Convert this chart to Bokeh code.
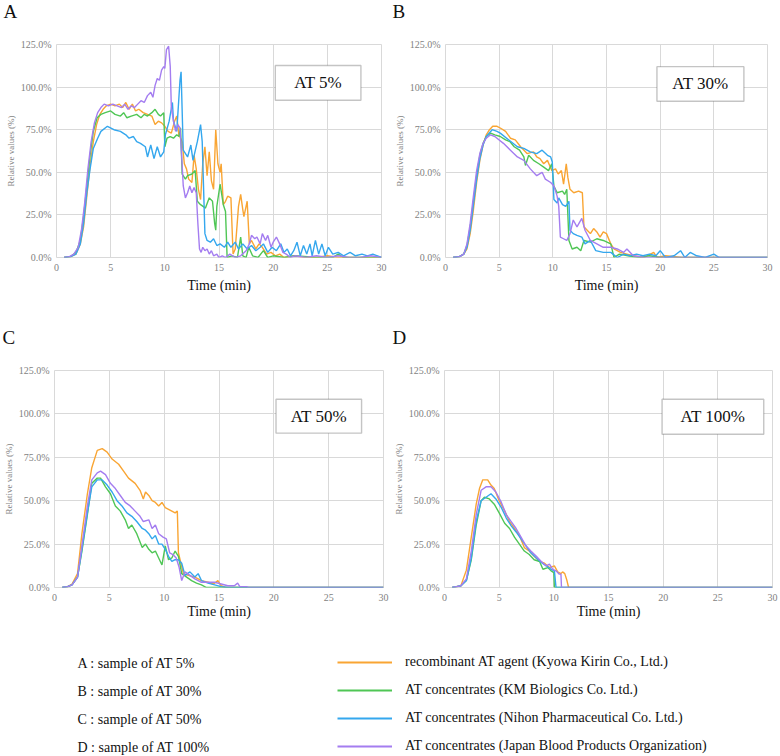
from bokeh.plotting import figure
from bokeh.models import Range1d, FixedTicker, Label, BoxAnnotation, Legend, LegendItem
from bokeh.layouts import column, row
from bokeh.embed import file_html
from bokeh.resources import INLINE

# ---------------- data (time in min, relative value in %) ----------------
A_OR_T = [0.7, 1.3, 1.8, 2.2, 2.5, 2.8, 3.1, 3.4, 3.7, 4.0, 4.3, 4.6, 5.0, 5.4, 5.8, 6.1, 6.4, 6.7, 7.0, 7.3,
          7.6, 8.0, 8.4, 8.8, 9.1, 9.4, 9.7, 10.0, 10.3, 10.6, 10.9, 11.1, 11.3, 11.6, 11.8, 12.0, 12.2, 12.5, 12.7, 12.9,
          13.1, 13.3, 13.5, 13.7, 13.9, 14.1, 14.3, 14.5, 14.7, 14.9, 15.1, 15.2, 15.4, 15.6, 15.8, 16.1, 16.3, 16.5, 16.8, 17.0,
          17.2, 17.3, 17.5, 17.6, 17.8, 18.0, 18.4, 18.7, 19.0, 19.4, 19.8, 20.2, 20.6, 21.0, 22.0, 23.0, 24.0, 25.0, 26.0, 28.0,
          30.0]
A_OR_V = [0, 0.5, 2, 8, 18, 36, 54, 68, 78, 84, 87, 89, 90, 89, 90, 88, 91, 87, 90, 86,
          87, 85, 84, 83, 78, 80, 79, 77, 74, 73, 80, 83, 72, 68, 55, 52, 46, 44, 60, 52,
          40, 34, 55, 65, 48, 62, 45, 40, 75, 55, 50, 55, 31, 33, 36, 35, 2, 5, 30, 37,
          28, 24, 30, 33, 8, 10, 5, 8, 6, 2, 3, 1, 2, 0, 1, 0, 0, 1, 0, 0,
          0]
A_GR_T = [0.7, 1.3, 1.8, 2.2, 2.5, 2.8, 3.1, 3.4, 3.75, 4.1, 4.5, 5.0, 5.4, 5.9, 6.2, 6.5, 6.9, 7.4, 7.8, 8.1,
          8.4, 8.8, 9.1, 9.4, 9.6, 9.9, 10.0, 10.2, 10.5, 10.8, 11.1, 11.3, 11.45, 11.6, 11.9, 12.1, 12.5, 12.8, 13.0, 13.3,
          13.75, 14.1, 14.4, 14.6, 14.7, 14.8, 15.1, 15.4, 15.6, 15.75, 16.2, 16.7, 17.0, 17.2, 17.5, 17.75, 18.1, 18.6, 19.1, 19.5,
          20.0, 21.0, 22.0, 24.0, 25.5, 26.0, 26.5, 28.0, 30.0]
A_GR_V = [0, 0.5, 3, 10, 24, 42, 60, 74, 82, 84, 85, 86, 84, 83, 85, 82, 83, 84, 82, 84,
          83, 85, 87, 84, 83, 85, 65, 70, 71, 70, 72, 71, 76, 49, 46, 48, 49, 51, 33, 31,
          29, 35, 33, 20, 16, 30, 43, 31, 27, 0, 1, 0, 12, 1, 0, 6, 1, 0, 4, 0,
          1, 0, 1, 0, 0, 2, 0, 0, 0]
A_BL_T = [0.7, 1.3, 1.8, 2.2, 2.5, 2.8, 3.1, 3.4, 3.8, 4.1, 4.7, 5.3, 5.9, 6.4, 6.7, 7.1, 7.4, 7.75, 8.2, 8.4,
          8.7, 9.0, 9.3, 9.6, 9.9, 10.05, 10.4, 10.7, 10.8, 11.1, 11.4, 11.5, 11.7, 12.1, 12.4, 12.6, 13.0, 13.3, 13.45, 13.7,
          13.9, 14.2, 14.5, 14.8, 15.1, 15.5, 15.8, 16.1, 16.5, 16.8, 17.2, 17.6, 18.0, 18.4, 18.8, 19.1, 19.5, 19.9, 20.3, 20.7,
          21.0, 21.3, 21.6, 21.9, 22.2, 22.5, 22.8, 23.1, 23.4, 23.6, 23.9, 24.2, 24.5, 24.8, 25.1, 25.5, 26.0, 26.5, 27.1, 27.6,
          28.2, 28.7, 29.2, 30.0]
A_BL_V = [0, 0.5, 2, 8, 20, 38, 52, 64, 70, 74, 77, 75, 74, 72, 70, 71, 68, 67, 65, 59,
          66, 58, 65, 59, 62, 72, 80, 91, 80, 74, 104, 109, 63, 59, 66, 57, 68, 78, 68, 14,
          10, 9, 11, 7, 8, 6, 9, 6, 9, 5, 8, 5, 7, 4, 6, 8, 3, 6, 4, 8,
          3, 5, 1, 4, 9, 1, 7, 2, 8, 1, 10, 2, 8, 1, 6, 2, 3, 1, 3, 1,
          2, 1, 2, 0]
A_PU_T = [0.7, 1.2, 1.6, 2.0, 2.3, 2.6, 2.9, 3.2, 3.5, 3.8, 4.1, 4.4, 4.8, 5.2, 5.6, 6.0, 6.3, 6.6, 6.9, 7.2,
          7.5, 7.8, 8.1, 8.4, 8.7, 8.9, 9.1, 9.3, 9.5, 9.7, 9.9, 10.0, 10.15, 10.35, 10.5, 10.6, 10.8, 11.0, 11.2, 11.4,
          11.55, 11.7, 11.9, 12.1, 12.3, 12.5, 12.7, 12.9, 13.05, 13.2, 13.35, 13.5, 13.7, 13.9, 14.1, 14.3, 14.5, 14.8, 15.0, 15.3,
          15.6, 16.0, 16.5, 17.0, 17.5, 17.8, 18.0, 18.3, 18.5, 18.8, 19.0, 19.3, 19.5, 19.8, 20.0, 20.3, 20.6, 20.9, 21.2, 21.6,
          22.0, 23.0, 24.0, 25.0, 26.0, 27.0, 28.0, 29.0, 30.0]
A_PU_V = [0, 0.5, 2, 6, 16, 32, 52, 68, 79, 85, 88, 90, 89, 90, 89, 88, 90, 87, 89, 88,
          90, 92, 91, 95, 97, 94, 101, 105, 104, 110, 112, 111, 122, 124, 112, 88, 80, 74, 78, 76,
          60, 42, 35, 38, 42, 38, 41, 38, 20, 5, 3, 6, 4, 5, 2, 4, 1, 2, 0, 1,
          0, 2, 0, 1, 4, 8, 13, 11, 12, 8, 14, 10, 13, 6, 9, 12, 8, 3, 2, 0,
          1, 0, 1, 0, 1, 0, 0, 1, 0]

B_OR_T = [0.7, 1.3, 1.7, 2.0, 2.3, 2.6, 2.9, 3.2, 3.5, 3.8, 4.1, 4.4, 4.8, 5.1, 5.6, 6.05, 6.5, 7.0, 7.6, 8.2,
          8.5, 8.8, 9.15, 9.5, 9.9, 10.25, 10.5, 10.8, 11.0, 11.25, 11.4, 11.6, 11.95, 12.4, 12.75, 12.9, 13.2, 13.5, 13.8, 14.1,
          14.4, 14.7, 15.0, 15.4, 15.7, 16.3, 16.9, 17.5, 18.5, 19.4, 19.7, 20.5, 22.0, 25.0, 30.0]
B_OR_V = [0, 0.5, 2, 5, 14, 28, 44, 57, 66, 72, 75, 77, 77, 76, 74, 70, 69, 65, 61, 62,
          59, 58, 55, 57, 51, 52, 49, 51, 43, 55, 47, 40, 38, 39, 38, 18, 16, 14, 17, 15,
          12, 15, 14, 8, 5, 3, 2, 1, 0, 3, 0, 1, 0, 0, 0]
B_GR_T = [0.7, 1.3, 1.7, 2.0, 2.3, 2.6, 2.9, 3.2, 3.5, 3.8, 4.2, 4.6, 5.1, 5.6, 6.0, 6.4, 6.9, 7.3, 7.45, 7.75,
          8.2, 8.7, 9.15, 9.6, 9.9, 10.1, 10.4, 10.9, 11.1, 11.3, 11.5, 11.8, 12.25, 12.6, 12.9, 13.5, 14.1, 14.7, 15.4, 15.7,
          16.2, 17.0, 18.0, 19.0, 20.0, 30.0]
B_GR_V = [0, 0.5, 2, 7, 18, 33, 48, 60, 67, 71, 73, 72, 71, 69, 68, 65, 63, 59, 54, 60,
          57, 55, 53, 51, 55, 42, 38, 39, 37, 40, 10, 5, 6, 4, 10, 9, 11, 10, 8, 0,
          2, 1, 0, 1, 0, 0]
B_BL_T = [0.7, 1.3, 1.7, 2.0, 2.3, 2.6, 2.9, 3.2, 3.5, 3.8, 4.35, 4.8, 5.1, 5.9, 6.7, 7.3, 7.9, 8.5, 9.0, 9.5,
          9.8, 9.95, 10.1, 10.4, 10.55, 10.9, 11.2, 11.5, 11.6, 11.9, 12.25, 12.7, 13.0, 13.5, 14.0, 14.7, 15.4, 16.0, 16.6, 17.2,
          17.8, 18.4, 19.0, 19.6, 20.0, 20.5, 21.3, 21.9, 22.3, 22.8, 23.4, 24.2, 25.0, 25.5, 26.5, 30.0]
B_BL_V = [0, 0.5, 2, 6, 16, 31, 46, 58, 66, 71, 75, 74, 73, 69, 65, 64, 62, 61, 63, 60,
          59, 56, 34, 32, 35, 31, 30, 33, 16, 14, 13, 12, 8, 10, 4, 3, 3, 0, 2, 1,
          2, 1, 2, 1, 4, 0, 1, 4, 0, 3, 1, 0, 2, 0, 0, 0]
B_PU_T = [0.7, 1.3, 1.7, 2.0, 2.3, 2.6, 2.9, 3.2, 3.5, 3.8, 4.2, 4.6, 5.0, 5.4, 6.05, 6.7, 7.3, 7.9, 8.5, 9.0,
          9.3, 9.8, 10.1, 10.4, 10.55, 10.7, 11.0, 11.3, 11.6, 11.9, 12.25, 12.7, 13.0, 13.5, 14.1, 14.7, 15.4, 16.0, 16.6, 16.9,
          17.5, 18.5, 20.0, 30.0]
B_PU_V = [0, 0.5, 2, 8, 20, 36, 51, 61, 67, 70, 72, 71, 69, 67, 63, 59, 57, 52, 48, 50,
          46, 44, 42, 36, 30, 12, 11, 10, 14, 22, 18, 23, 16, 10, 8, 6, 6, 5, 3, 5,
          1, 0, 0, 0]

C_OR_T = [0.7, 1.2, 1.6, 2.1, 2.5, 3.0, 3.4, 3.9, 4.35, 4.8, 5.25, 5.85, 6.3, 6.75, 7.35, 7.8, 8.1, 8.3, 8.6, 8.9,
          9.2, 9.5, 9.8, 10.1, 10.4, 10.7, 11.0, 11.2, 11.3, 11.45, 11.75, 12.2, 12.8, 13.4, 14.0, 14.5, 14.9, 15.2, 15.6, 30.0]
C_OR_V = [0, 0.5, 2, 8, 31, 54, 69, 79, 80, 78, 74, 71, 67, 63, 60, 56, 51, 55, 53, 50,
          49, 47, 49, 46, 45, 44, 43, 44, 20, 16, 8, 7, 6, 4, 3, 2, 4, 1, 0, 0]
C_GR_T = [0.7, 1.2, 1.6, 2.1, 2.5, 3.0, 3.4, 3.9, 4.2, 4.65, 5.1, 5.55, 6.0, 6.45, 6.75, 7.05, 7.5, 8.0, 8.3, 8.6,
          8.9, 9.2, 9.5, 9.8, 10.1, 10.4, 10.7, 11.0, 11.3, 11.6, 12.05, 12.5, 12.95, 13.4, 13.85, 30.0]
C_GR_V = [0, 0.5, 1.5, 6, 21, 42, 60, 63, 63, 58, 54, 47, 44, 39, 34, 36, 31, 23, 25, 22,
          20, 21, 17, 13, 24, 16, 17, 21, 18, 8, 6, 4, 2.5, 1.5, 0, 0]
C_BL_T = [0.7, 1.2, 1.6, 2.1, 2.5, 3.0, 3.4, 3.9, 4.35, 4.8, 5.25, 5.7, 6.15, 6.6, 7.05, 7.5, 8.0, 8.3, 8.6, 8.9,
          9.2, 9.5, 9.8, 10.1, 10.4, 10.7, 11.0, 11.3, 11.6, 11.9, 12.35, 12.8, 13.1, 13.4, 14.0, 14.6, 15.2, 15.8, 30.0]
C_BL_V = [0, 0.5, 1.5, 6, 22, 43, 58, 62, 62, 59, 55, 50, 47, 43, 41, 38, 34, 33, 31, 28,
          30, 25, 25, 22, 18, 15, 16, 16, 14, 7, 9, 6, 8, 4, 2.5, 1.5, 0.5, 0, 0]
C_PU_T = [0.7, 1.2, 1.6, 2.1, 2.5, 3.0, 3.4, 3.9, 4.2, 4.65, 5.1, 5.55, 6.0, 6.45, 6.9, 7.35, 7.8, 8.1, 8.6, 8.9,
          9.2, 9.5, 9.9, 10.2, 10.5, 10.8, 11.1, 11.35, 11.6, 11.9, 12.35, 12.8, 13.4, 14.0, 14.6, 15.2, 15.8, 16.4, 16.7, 16.9,
          17.5, 17.7, 30.0]
C_PU_V = [0, 0.5, 1.5, 6, 24, 47, 62, 66, 67, 65, 60, 57, 53, 49, 47, 44, 41, 38, 39, 34,
          36, 31, 29, 28, 20, 19, 17, 12, 4, 9, 7, 5, 3, 3, 3, 2, 1, 1, 2.5, 0.5,
          0.5, 0, 0]

D_OR_T = [0.7, 1.1, 1.5, 2.0, 2.45, 2.9, 3.2, 3.5, 3.95, 4.25, 4.55, 5.0, 5.5, 5.95, 6.4, 6.85, 7.3, 7.75, 8.2, 8.7,
          9.15, 9.6, 10.05, 10.35, 10.65, 10.8, 11.0, 11.2, 11.35, 30.0]
D_OR_V = [0, 0.5, 1, 10, 29, 48, 57, 62, 62, 59, 57, 50, 44, 38, 34, 30, 23, 21, 18, 15,
          14, 11.5, 12.5, 9, 8, 9, 8, 4, 0, 0]
D_GR_T = [0.7, 1.1, 1.5, 2.0, 2.45, 2.9, 3.35, 3.65, 4.1, 4.55, 5.0, 5.5, 5.95, 6.4, 6.85, 7.3, 7.75, 8.2, 8.7, 9.0,
          9.45, 9.75, 10.0, 10.05, 30.0]
D_GR_V = [0, 0.5, 1, 4, 16, 36, 50, 52, 51, 48, 43, 37, 34, 29, 25, 21, 19, 16, 15, 10.5,
          11.5, 9.6, 8.6, 0, 0]
D_BL_T = [0.7, 1.1, 1.5, 2.0, 2.45, 2.9, 3.35, 3.8, 4.25, 4.7, 5.2, 5.65, 6.1, 6.55, 7.0, 7.45, 7.9, 8.4, 8.85, 9.3,
          9.75, 10.05, 10.2, 30.0]
D_BL_V = [0, 0.5, 1, 4, 17, 38, 50, 52, 54, 51, 46, 40, 35.5, 32, 28, 24, 20, 17, 14.4, 12.5,
          10.5, 9.6, 0, 0]
D_PU_T = [0.7, 1.1, 1.5, 2.0, 2.45, 2.9, 3.35, 3.8, 4.25, 4.7, 5.2, 5.65, 6.1, 6.55, 7.0, 7.45, 7.9, 8.4, 8.85, 9.3,
          9.6, 9.9, 10.2, 10.5, 10.65, 10.7, 30.0]
D_PU_V = [0, 0.5, 1, 5, 21, 42, 56, 58, 58, 55, 49, 42, 38, 34, 29, 24, 21, 18, 15, 12.5,
          13.4, 10.5, 9.6, 7.7, 7.7, 0, 0]

SERIES_NAMES = ["recombinant AT agent (Kyowa Kirin Co., Ltd.)",
                "AT concentrates (KM Biologics Co. Ltd.)",
                "AT concentrates (Nihon Pharmaceutical Co. Ltd.)",
                "AT concentrates (Japan Blood Products Organization)"]
SAMPLE_LABELS = ["A : sample of AT 5%", "B : sample of AT 30%",
                 "C : sample of AT 50%", "D : sample of AT 100%"]
PANEL_LETTERS = ["A", "B", "C", "D"]
PANEL_TAGS = ["AT 5%", "AT 30%", "AT 50%", "AT 100%"]
X_TICKS = [0, 5, 10, 15, 20, 25, 30]
Y_TICKS = [0, 25, 50, 75, 100, 125]
Y_TICK_LABELS = ["0.0%", "25.0%", "50.0%", "75.0%", "100.0%", "125.0%"]

# ---------------- styling / layout ----------------
COLORS = ["#F9A533", "#4FC655", "#34A7EE", "#A47DF0"]
FONT = "Liberation Serif"
GRID = "#D9D9D9"
TICK_GREY = "#7F7F7F"
INK = "#111111"

# tag box extents (data units) per panel: left, right, bottom, top
BOX_L = [20.2, 19.7, 20.2, 19.9]
BOX_R = [28.1, 27.8, 28.0, 29.2]
BOX_B = [92.3, 91.7, 88.9, 88.3]
BOX_T = [112.7, 112.0, 108.4, 108.4]

PANEL_DATA = [
    [(A_OR_T, A_OR_V), (A_GR_T, A_GR_V), (A_BL_T, A_BL_V), (A_PU_T, A_PU_V)],
    [(B_OR_T, B_OR_V), (B_GR_T, B_GR_V), (B_BL_T, B_BL_V), (B_PU_T, B_PU_V)],
    [(C_OR_T, C_OR_V), (C_GR_T, C_GR_V), (C_BL_T, C_BL_V), (C_PU_T, C_PU_V)],
    [(D_OR_T, D_OR_V), (D_GR_T, D_GR_V), (D_BL_T, D_BL_V), (D_PU_T, D_PU_V)],
]
# per panel: height, border left, right, top, bottom, x-label standoff
GEOM = [
    (296, 56, 9, 19, 63, 4),
    (296, 55, 13, 20, 62, 4),
    (274, 52, 7, 22, 34, 0),
    (274, 53, 8, 21, 35, 0),
]
# letter strips above each row: height, vertical centre of letter, x of each letter
STRIPS = [(24, 11, [3, 392]), (28, 17, [2, 392])]


def make_strip(k):
    h, mid, xs = STRIPS[k]
    s = figure(width=780, height=h, x_range=Range1d(0, 780), y_range=Range1d(h, 0),
               output_backend="svg", toolbar_location=None,
               x_axis_location=None, y_axis_location=None, min_border=0)
    s.title = None
    s.grid.visible = False
    s.outline_line_color = None
    for j, xx in enumerate(xs):
        s.add_layout(Label(x=xx, y=mid, text=PANEL_LETTERS[2 * k + j],
                           text_align="left", text_baseline="middle",
                           text_font=FONT, text_font_size="19px", text_color=INK))
    return s


def make_panel(i):
    h, bl, br, bt, bb, xls = GEOM[i]
    p = figure(width=390, height=h, x_range=Range1d(0, 30), y_range=Range1d(0, 125),
               output_backend="svg", toolbar_location=None,
               min_border_left=bl, min_border_right=br, min_border_top=bt, min_border_bottom=bb)
    p.title = None
    p.outline_line_color = GRID
    p.xgrid.grid_line_color = GRID
    p.ygrid.grid_line_color = GRID
    p.xaxis.ticker = FixedTicker(ticks=X_TICKS)
    p.yaxis.ticker = FixedTicker(ticks=Y_TICKS)
    p.yaxis.major_label_overrides = {t: s for t, s in zip(Y_TICKS, Y_TICK_LABELS)}
    for ax in (p.xaxis[0], p.yaxis[0]):
        ax.axis_line_color = None
        ax.major_tick_line_color = None
        ax.minor_tick_line_color = None
        ax.major_tick_out = 0
        ax.major_tick_in = 0
        ax.major_label_text_font = FONT
        ax.major_label_text_font_size = "10px"
        ax.major_label_text_color = TICK_GREY
        ax.axis_label_text_font = FONT
        ax.axis_label_text_font_style = "normal"
    p.xaxis.major_label_standoff = 6
    p.xaxis.axis_label = "Time (min)"
    p.xaxis.axis_label_text_font_size = "14px"
    p.xaxis.axis_label_text_color = INK
    p.xaxis.axis_label_standoff = xls
    p.yaxis.major_label_standoff = 5
    p.yaxis.axis_label = "Relative values (%)"
    p.yaxis.axis_label_text_font_size = "9px"
    p.yaxis.axis_label_text_color = TICK_GREY
    p.yaxis.axis_label_standoff = 2

    for (t, v), c in zip(PANEL_DATA[i], COLORS):
        p.line(t, v, line_color=c, line_width=1.4)

    p.add_layout(BoxAnnotation(left=BOX_L[i], right=BOX_R[i], bottom=BOX_B[i], top=BOX_T[i],
                               fill_color="white", fill_alpha=1.0,
                               line_color="#3A3A3A", line_width=1.4))
    p.add_layout(Label(x=(BOX_L[i] + BOX_R[i]) / 2, y=(BOX_B[i] + BOX_T[i]) / 2,
                       text=PANEL_TAGS[i], text_align="center", text_baseline="middle",
                       text_font=FONT, text_font_size="17px", text_color=INK))
    return p


panels = [make_panel(i) for i in range(4)]
strips = [make_strip(k) for k in range(2)]

# ---------------- legend strip ----------------
NAN = float("nan")
leg = figure(width=780, height=134, x_range=Range1d(0, 780), y_range=Range1d(134, 0),
             output_backend="svg", toolbar_location=None,
             x_axis_location=None, y_axis_location=None, min_border=0)
leg.title = None
leg.grid.visible = False
leg.outline_line_color = None
rs = [leg.line(x=[NAN], y=[NAN], line_color=c, line_width=2) for c in COLORS]
legend = Legend(items=[LegendItem(label=n, renderers=[r], index=0) for n, r in zip(SERIES_NAMES, rs)],
                location=(337, 0), orientation="vertical", glyph_width=55, glyph_height=20,
                label_height=20, spacing=8, padding=0, margin=0, label_standoff=13,
                border_line_color=None, background_fill_alpha=0,
                label_text_font=FONT, label_text_font_size="14px", label_text_color=INK)
leg.add_layout(legend)
ROW_Y = [41, 69, 97, 125]
for s, yy in zip(SAMPLE_LABELS, ROW_Y):
    leg.add_layout(Label(x=77, y=yy, text=s, text_baseline="middle", text_align="left",
                         text_font=FONT, text_font_size="14px", text_color=INK))

layout = column(strips[0], row(panels[0], panels[1]), strips[1], row(panels[2], panels[3]), leg)
open("out.html", "w").write(file_html(layout, INLINE))
